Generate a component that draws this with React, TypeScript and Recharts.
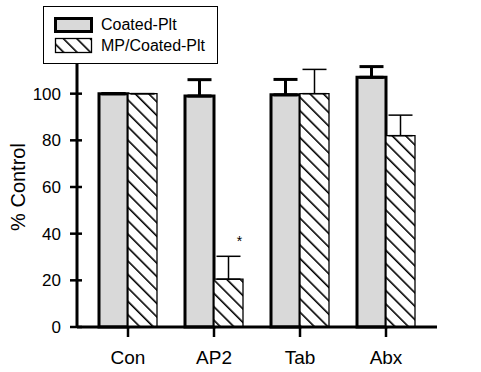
import { BarChart, Bar, XAxis, YAxis, ErrorBar, LabelList } from "recharts";

const groups = ["Con", "AP2", "Tab", "Abx"];
const coatedPlt = [100, 99, 99.5, 107];
const coatedPltErr = [0, 7, 6.6, 4.6];
const mpCoatedPlt = [100, 20.5, 100, 82];
const mpCoatedPltErr = [0, 9.8, 10.4, 8.8];
const marks = ["", "*", "", ""];
const yTicks = [0, 20, 40, 60, 80, 100];

const FONT = "Arial, 'Liberation Sans', sans-serif";
const GRAY = "#d9d9d9";

const data = groups.map((g, i) => ({
  group: g,
  coated: coatedPlt[i],
  coatedErr: [0, coatedPltErr[i]],
  mp: mpCoatedPlt[i],
  mpErr: [0, mpCoatedPltErr[i]],
  mark: marks[i],
}));

const YTick = ({ x, y, payload }: { x?: number; y?: number; payload?: { value: number } }) => {
  if (x == null || y == null || !payload) return null;
  return (
    <g>
      <line x1={x - 7} x2={x + 5} y1={y} y2={y} stroke="#000" strokeWidth={2.5} />
      <text x={x - 16} y={y} dy="0.36em" textAnchor="end" fontSize={17} fontFamily={FONT} fill="#000">
        {payload.value}
      </text>
    </g>
  );
};

const Star = (props: { x?: number; y?: number; width?: number; value?: string }) => {
  const { x = 0, y = 0, width = 0, value } = props;
  if (!value) return null;
  return (
    <text x={x + width / 2 + 11} y={y - 33} textAnchor="middle" fontSize={14} fontFamily={FONT} fill="#000">
      {value}
    </text>
  );
};

// diagonal "\" hatch used by the MP bars and the legend swatch
const Hatch = ({ id }: { id: string }) => (
  <pattern id={id} width={9.5} height={9.5} patternUnits="userSpaceOnUse" patternTransform="rotate(-45)">
    <rect width={9.5} height={9.5} fill="#fff" />
    <line x1={0.8} y1={0} x2={0.8} y2={9.5} stroke="#000" strokeWidth={1.6} />
  </pattern>
);

const LegendBox = () => (
  <div
    style={{
      position: "absolute",
      left: 43,
      top: 6,
      width: 175,
      height: 58,
      boxSizing: "border-box",
      border: "1px solid #000",
      background: "#fff",
      fontFamily: FONT,
      fontSize: 16,
      color: "#000",
    }}
  >
    <svg width={60} height={56} style={{ position: "absolute", left: 0, top: 0 }}>
      <defs>
        <Hatch id="hatchLegend" />
      </defs>
      <rect x={11.5} y={11.5} width={36} height={13} fill={GRAY} stroke="#000" strokeWidth={3} />
      <rect x={11.5} y={31.5} width={36} height={14} fill="url(#hatchLegend)" stroke="#000" strokeWidth={1.3} />
    </svg>
    <div style={{ position: "absolute", left: 57, top: 8, lineHeight: "20px" }}>Coated-Plt</div>
    <div style={{ position: "absolute", left: 57, top: 29, lineHeight: "20px" }}>MP/Coated-Plt</div>
  </div>
);

export default function App() {
  return (
    <div style={{ position: "absolute", left: 0, top: 0, width: 481, height: 372, background: "#fff" }}>
      <BarChart
        width={481}
        height={372}
        data={data}
        margin={{ top: 47, right: 44, left: 17, bottom: 0 }}
        barCategoryGap={14}
        barGap={0}
      >
        <defs>
          <Hatch id="hatch" />
        </defs>
        <XAxis
          dataKey="group"
          padding={{ left: 8, right: 8 }}
          height={45}
          tickSize={10}
          tickMargin={14}
          axisLine={{ stroke: "#000", strokeWidth: 3 }}
          tickLine={{ stroke: "#000", strokeWidth: 2.5 }}
          tick={{ fill: "#000", fontSize: 19, fontFamily: FONT }}
        />
        <XAxis
          xAxisId="top"
          dataKey="group"
          orientation="top"
          height={0}
          tick={false}
          tickLine={false}
          axisLine={{ stroke: "#000", strokeWidth: 3 }}
        />
        <YAxis
          domain={[0, 120]}
          ticks={yTicks}
          width={60}
          tickSize={0}
          tickMargin={0}
          tickLine={false}
          axisLine={{ stroke: "#000", strokeWidth: 3 }}
          tick={<YTick />}
          label={{
            value: "% Control",
            angle: -90,
            position: "center",
            dx: -29,
            style: { fontSize: 20, fill: "#000", fontFamily: FONT },
          }}
        />
        <YAxis
          yAxisId="right"
          orientation="right"
          domain={[0, 120]}
          width={0}
          tick={false}
          tickLine={false}
          axisLine={{ stroke: "#000", strokeWidth: 3 }}
        />
        <Bar dataKey="coated" fill={GRAY} stroke="#000" strokeWidth={3} isAnimationActive={false}>
          <ErrorBar dataKey="coatedErr" width={12} stroke="#000" strokeWidth={3} direction="y" />
        </Bar>
        <Bar dataKey="mp" fill="url(#hatch)" stroke="#000" strokeWidth={1.3} isAnimationActive={false}>
          <ErrorBar dataKey="mpErr" width={12} stroke="#000" strokeWidth={1.5} direction="y" />
          <LabelList dataKey="mark" content={<Star />} />
        </Bar>
      </BarChart>
      <LegendBox />
    </div>
  );
}
